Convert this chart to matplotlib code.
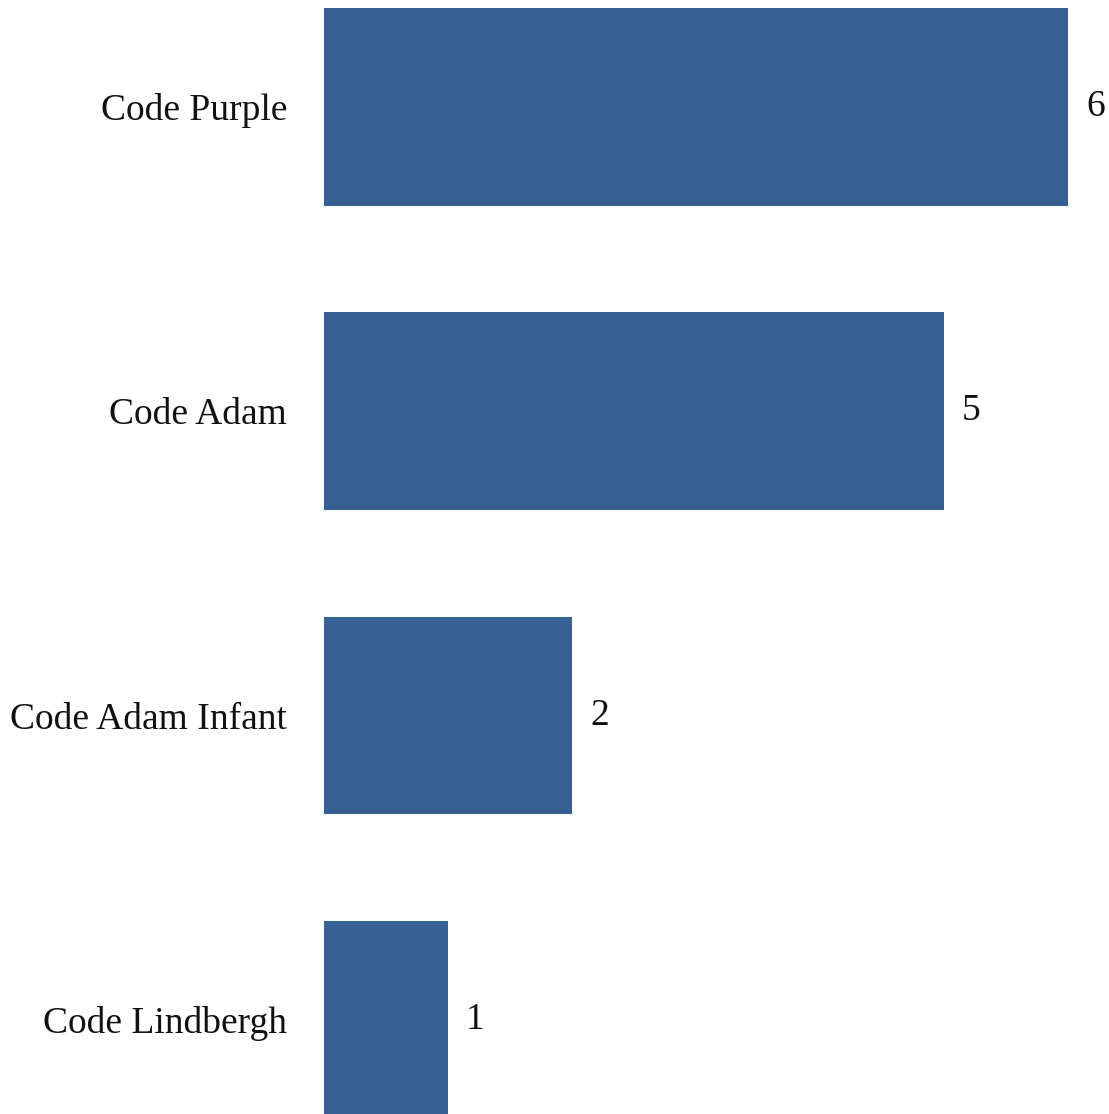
import matplotlib
matplotlib.use("Agg")
import matplotlib.pyplot as plt

categories = ["Code Purple", "Code Adam", "Code Adam Infant", "Code Lindbergh"]
values = [6, 5, 2, 1]

bar_color = "#376092"
plt.rcParams['font.family'] = ['Liberation Serif', 'DejaVu Serif']

fig = plt.figure(figsize=(11.09, 11.14), dpi=100)
W, H = 1109, 1114
ax = fig.add_axes([324 / W, 0, (1068 - 324) / W, 1106 / H])

pos = list(range(len(categories)))
ax.barh(pos, values, height=0.65, color=bar_color)
ax.set_xlim(0, 6)
ax.set_ylim(3.31, -0.325)

ax.set_yticks(pos)
ax.set_yticklabels(categories, fontsize=27, color="#111111")
ax.tick_params(axis='y', length=0, pad=26.5)
ax.set_xticks([])
for s in ax.spines.values():
    s.set_visible(False)

for p, v in zip(pos, values):
    ax.annotate(str(v), xy=(v, p), xytext=(18, 0), textcoords="offset pixels",
                va="center", ha="left", fontsize=27, color="#111111",
                annotation_clip=False)

fig.savefig("out.png", dpi=100)
